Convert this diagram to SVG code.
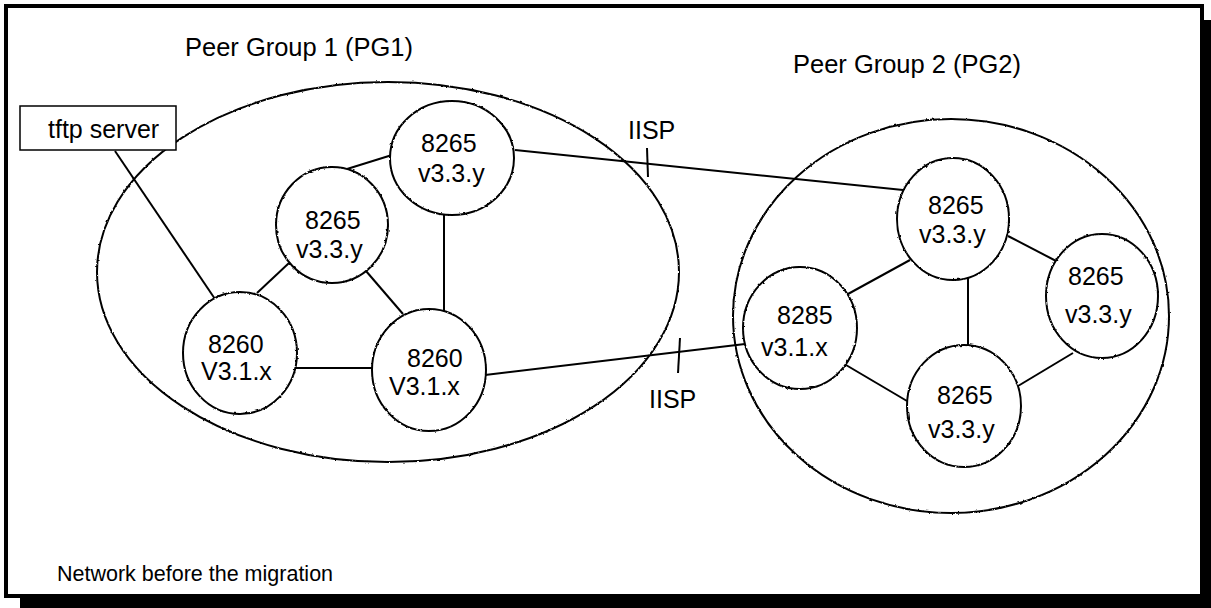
<svg xmlns="http://www.w3.org/2000/svg" width="1211" height="608" viewBox="0 0 1211 608">
  <defs>
    <style>
      .frame { fill: #ffffff; stroke: #000000; stroke-width: 4; }
      .shadow { fill: #000000; }
      .grp { fill: none; stroke: #000000; stroke-width: 2; }
      .node { fill: #ffffff; stroke: #000000; stroke-width: 2; }
      .box { fill: #ffffff; stroke: #000000; stroke-width: 1.5; }
      .ln { stroke: #000000; stroke-width: 2; fill: none; }
      .t { font-family: "Liberation Sans", Arial, sans-serif; font-size: 25px; fill: #000000; }
      .ts { font-family: "Liberation Sans", Arial, sans-serif; font-size: 21.5px; fill: #000000; }
    </style>
    <filter id="rough" x="-10%" y="-10%" width="120%" height="120%">
      <feTurbulence type="fractalNoise" baseFrequency="0.35" numOctaves="1" seed="3" result="n"/>
      <feDisplacementMap in="SourceGraphic" in2="n" scale="2.5" xChannelSelector="R" yChannelSelector="G"/>
    </filter>
  </defs>

  <g id="frame">
    <rect class="shadow" x="20" y="20" width="1191" height="588"/>
    <rect class="frame" x="6" y="6" width="1196" height="590"/>
  </g>

  <g id="pg1">
    <ellipse class="grp" cx="388" cy="272" rx="291" ry="190" filter="url(#rough)"/>
    <text class="t" x="185" y="56" textLength="228" lengthAdjust="spacingAndGlyphs">Peer Group 1 (PG1)</text>
  </g>
  <g id="pg2">
    <ellipse class="grp" cx="951" cy="316" rx="218" ry="197" filter="url(#rough)"/>
    <text class="t" x="793" y="73" textLength="228" lengthAdjust="spacingAndGlyphs">Peer Group 2 (PG2)</text>
  </g>

  <g id="connectors">
    <line class="ln" x1="115" y1="151" x2="215" y2="299"/>
    <line class="ln" x1="347" y1="169" x2="392" y2="155"/>
    <line class="ln" x1="444" y1="214" x2="444" y2="312"/>
    <line class="ln" x1="366" y1="271" x2="403" y2="314"/>
    <line class="ln" x1="257" y1="293" x2="289" y2="263"/>
    <line class="ln" x1="295" y1="368" x2="373" y2="368"/>
    <line class="ln" x1="515" y1="150" x2="903" y2="190"/>
    <line class="ln" x1="485" y1="375" x2="745" y2="344"/>
    <line class="ln" x1="848" y1="294" x2="910" y2="260"/>
    <line class="ln" x1="968" y1="278" x2="968" y2="346"/>
    <line class="ln" x1="846" y1="365" x2="907" y2="401"/>
    <line class="ln" x1="1008" y1="236" x2="1060" y2="263"/>
    <line class="ln" x1="1018" y1="386" x2="1073" y2="353"/>
    <line class="ln" x1="647" y1="148" x2="648" y2="177"/>
    <line class="ln" x1="680" y1="338" x2="678" y2="373"/>
    <text class="t" x="628" y="139">IISP</text>
    <text class="t" x="649" y="408">IISP</text>
  </g>

  <g id="tftp">
    <rect class="box" x="20" y="106" width="156" height="44"/>
    <text class="t" x="48" y="138">tftp server</text>
  </g>

  <g id="n1">
    <ellipse class="node" cx="452" cy="158" rx="62" ry="57" filter="url(#rough)"/>
    <text class="t" x="421" y="152">8265</text>
    <text class="t" x="418" y="182">v3.3.y</text>
  </g>
  <g id="n2">
    <ellipse class="node" cx="332" cy="225" rx="56" ry="58" filter="url(#rough)"/>
    <text class="t" x="305" y="229">8265</text>
    <text class="t" x="296" y="258">v3.3.y</text>
  </g>
  <g id="n3">
    <ellipse class="node" cx="240" cy="353" rx="57" ry="61" filter="url(#rough)"/>
    <text class="t" x="208" y="353">8260</text>
    <text class="t" x="201" y="380">V3.1.x</text>
  </g>
  <g id="n4">
    <ellipse class="node" cx="429" cy="370" rx="57" ry="61" filter="url(#rough)"/>
    <text class="t" x="407" y="367">8260</text>
    <text class="t" x="389" y="395">V3.1.x</text>
  </g>
  <g id="n5">
    <ellipse class="node" cx="953" cy="219" rx="56" ry="61" filter="url(#rough)"/>
    <text class="t" x="928" y="214">8265</text>
    <text class="t" x="919" y="243">v3.3.y</text>
  </g>
  <g id="n6">
    <ellipse class="node" cx="800" cy="328" rx="57" ry="61" filter="url(#rough)"/>
    <text class="t" x="777" y="324">8285</text>
    <text class="t" x="761" y="356">v3.1.x</text>
  </g>
  <g id="n7">
    <ellipse class="node" cx="1102" cy="296" rx="56" ry="62" filter="url(#rough)"/>
    <text class="t" x="1068" y="285">8265</text>
    <text class="t" x="1065" y="323">v3.3.y</text>
  </g>
  <g id="n8">
    <ellipse class="node" cx="964" cy="406" rx="57" ry="61" filter="url(#rough)"/>
    <text class="t" x="937" y="404">8265</text>
    <text class="t" x="928" y="438">v3.3.y</text>
  </g>

  <text id="caption" class="ts" x="57" y="581">Network before the migration</text>
</svg>
